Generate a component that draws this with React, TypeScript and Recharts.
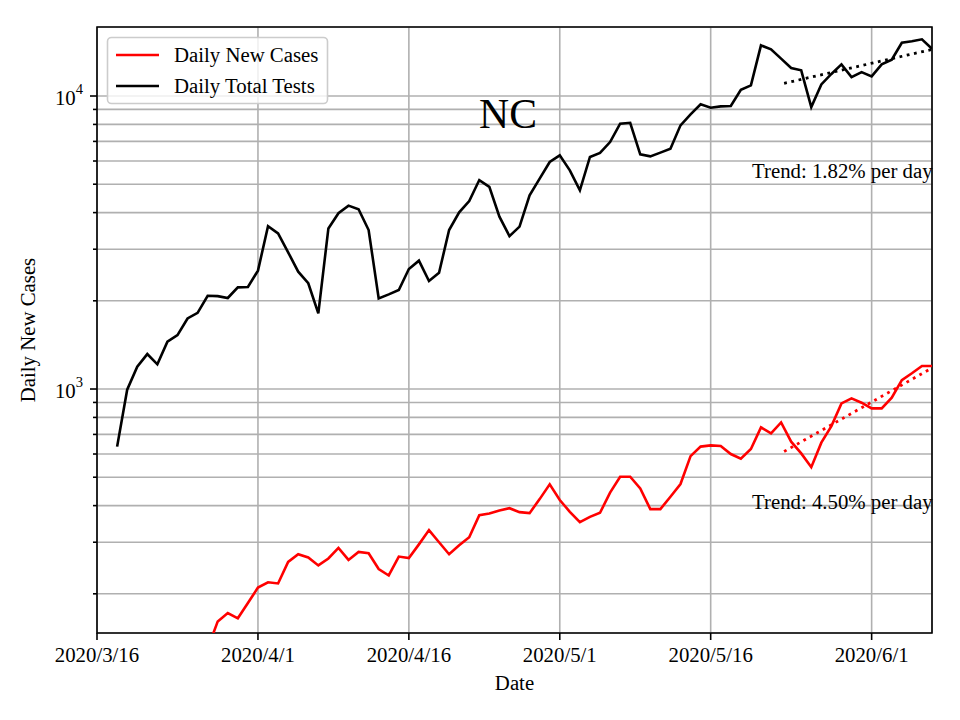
import React from "react";
import { LineChart, Line, XAxis, YAxis, CartesianGrid, ReferenceArea } from "recharts";

// Day index counted from 2020/3/16 (day 0)
const xTickDays = [0, 16, 31, 46, 61, 77];
const xTickLabels = ["2020/3/16", "2020/4/1", "2020/4/16", "2020/5/1", "2020/5/16", "2020/6/1"];

const yTicks = [200, 300, 400, 500, 600, 700, 800, 900, 1000, 2000, 3000, 4000, 5000, 6000, 7000, 8000, 9000, 10000];
const yDomain = [147, 17200];

// Daily Total Tests, days 2..83
const testsStartDay = 2;
const dailyTests = [
  636, 995, 1191, 1316, 1214, 1450, 1528, 1741, 1820, 2080,
  2075, 2045, 2223, 2230, 2535, 3596, 3397, 2928, 2514, 2296,
  1813, 3532, 3980, 4226, 4106, 3488, 2039, 2104, 2177, 2568,
  2742, 2337, 2494, 3488, 4010, 4382, 5166, 4899, 3873, 3326,
  3584, 4581, 5226, 5953, 6274, 5577, 4766, 6193, 6390, 6963,
  8045, 8100, 6324, 6224, 6409, 6606, 7941, 8659, 9367, 9121,
  9220, 9250, 10507, 10876, 14890, 14440, 13413, 12462, 12240, 9165,
  10958, 11892, 12820, 11600, 12070, 11670, 12820, 13300, 15200, 15370,
  15616, 14500,
];

// Daily New Cases, days 11..83
const casesStartDay = 11;
const dailyCases = [
  130,
  161, 172, 165, 186, 210, 219, 217, 257, 273, 266,
  250, 264, 287, 261, 278, 275, 243, 231, 268, 265,
  295, 330, 300, 273, 293, 312, 371, 376, 385, 392,
  380, 377, 421, 473, 418, 381, 351, 366, 378, 443,
  502, 502, 458, 389, 389, 429, 474, 590, 636, 642,
  639, 600, 578, 624, 740, 706, 769, 661, 603, 541,
  656, 747, 893, 929, 898, 859, 859, 934, 1073, 1132,
  1198, 1198,
];

// Trend lines (endpoints)
const trendDays = [68.3, 83];
const testsTrend = [11050, 14420];
const casesTrend = [612, 1180];

const lastDay = testsStartDay + dailyTests.length - 1;

const rows = dailyTests.map((t, i) => {
  const day = testsStartDay + i;
  const ci = day - casesStartDay;
  return { day, tests: t, cases: ci >= 0 ? dailyCases[ci] : null };
});
const testsTrendData = trendDays.map((d, i) => ({ day: d, trend: testsTrend[i] }));
const casesTrendData = trendDays.map((d, i) => ({ day: d, trend: casesTrend[i] }));

const FONT = '"Liberation Serif", "Times New Roman", "DejaVu Serif", serif';

const YTick = (props: any) => {
  const { y, payload } = props;
  const v = payload.value;
  const major = v === 1000 || v === 10000;
  const ax = 97;
  return (
    <g>
      <line x1={ax - (major ? 7 : 4)} x2={ax} y1={y} y2={y} stroke="#000" strokeWidth={1.6} />
      {major && (
        <text x={ax - 14} y={y + 9} textAnchor="end" fontSize={20.8} fontFamily={FONT} fill="#000">
          10
          <tspan dy={-11} fontSize={14.6}>{v === 1000 ? "3" : "4"}</tspan>
        </text>
      )}
    </g>
  );
};

export default function App() {
  return (
    <div style={{ position: "absolute", left: 0, top: 0, width: 960, height: 720, background: "#fff", fontFamily: FONT }}>
      <LineChart width={960} height={720} data={rows} margin={{ top: 27, right: 28, left: 0, bottom: 0 }}>
        <CartesianGrid stroke="#b0b0b0" strokeWidth={1.6} />
        <XAxis
          type="number"
          dataKey="day"
          domain={[0, lastDay]}
          ticks={xTickDays}
          tickFormatter={(v: number) => xTickLabels[xTickDays.indexOf(v)]}
          height={87}
          allowDataOverflow
          axisLine={false}
          tickLine={{ stroke: "#000", strokeWidth: 1.6 }}
          tickSize={7}
          tickMargin={7}
          tick={{ fill: "#000", fontSize: 20.8, fontFamily: FONT }}
          interval={0}
        />
        <YAxis
          type="number"
          scale="log"
          domain={yDomain}
          ticks={yTicks}
          allowDataOverflow
          width={97}
          axisLine={false}
          tickLine={false}
          tickSize={0}
          tickMargin={0}
          tick={<YTick />}
          interval={0}
        />
        <Line dataKey="cases" stroke="#ff0000" strokeWidth={2.6} dot={false} activeDot={false} isAnimationActive={false} connectNulls={false} />
        <Line dataKey="tests" stroke="#000000" strokeWidth={2.6} dot={false} activeDot={false} isAnimationActive={false} />
        <Line data={testsTrendData} dataKey="trend" stroke="#000000" strokeWidth={2.8} strokeDasharray="2.8 4.6" dot={false} activeDot={false} isAnimationActive={false} />
        <Line data={casesTrendData} dataKey="trend" stroke="#ff0000" strokeWidth={2.8} strokeDasharray="2.8 4.6" dot={false} activeDot={false} isAnimationActive={false} />
        <ReferenceArea x1={0} x2={lastDay} y1={yDomain[0]} y2={yDomain[1]} fill="none" fillOpacity={0} stroke="#000" strokeWidth={1.6} ifOverflow="visible" />
      </LineChart>
      <svg width={960} height={720} style={{ position: "absolute", left: 0, top: 0, pointerEvents: "none" }}>
        <g fontFamily={FONT} fill="#000">
          <text x={508} y={128} fontSize={41.7} textAnchor="middle">NC</text>
          <text x={752} y={178} fontSize={20.8}>Trend: 1.82% per day</text>
          <text x={752} y={509} fontSize={20.8}>Trend: 4.50% per day</text>
          <text x={514.5} y={690} fontSize={20.8} textAnchor="middle">Date</text>
          <text x={35} y={330} fontSize={20.8} textAnchor="middle" transform="rotate(-90 35 330)">Daily New Cases</text>
        </g>
        <rect x={107.5} y={37.5} width={220} height={66} rx={4} ry={4} fill="#fff" fillOpacity={0.8} stroke="#cccccc" strokeWidth={1.6} />
        <line x1={116} x2={159} y1={55} y2={55} stroke="#ff0000" strokeWidth={2.6} />
        <line x1={116} x2={159} y1={86} y2={86} stroke="#000" strokeWidth={2.6} />
        <g fontFamily={FONT} fill="#000" fontSize={20.8}>
          <text x={174} y={61.5}>Daily New Cases</text>
          <text x={174} y={92.5}>Daily Total Tests</text>
        </g>
      </svg>
    </div>
  );
}
